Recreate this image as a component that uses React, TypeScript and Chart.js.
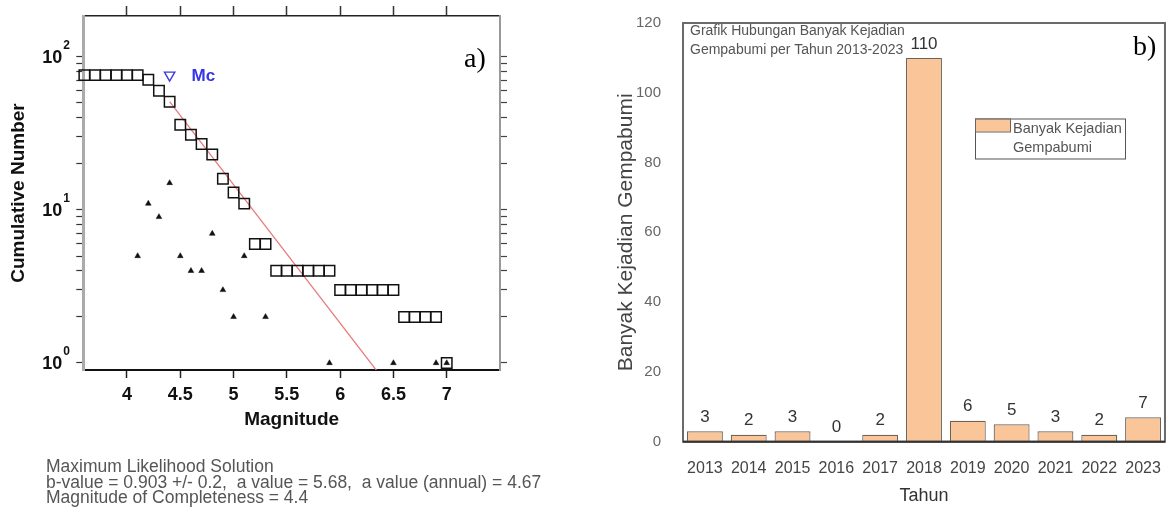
import React, { useEffect, useRef } from 'react';
import { Chart, registerables } from 'chart.js';

Chart.register(...registerables);

// ---------- Panel a) : Gutenberg-Richter frequency-magnitude ----------
const magnitudes = [3.6, 3.7, 3.8, 3.9, 4.0, 4.1, 4.2, 4.3, 4.4, 4.5, 4.6, 4.7, 4.8, 4.9, 5.0, 5.1, 5.2, 5.3, 5.4, 5.5, 5.6, 5.7, 5.8, 5.9, 6.0, 6.1, 6.2, 6.3, 6.4, 6.5, 6.6, 6.7, 6.8, 6.9, 7.0];
const cumulativeNumber = [76, 76, 76, 76, 76, 76, 71, 60, 51, 36, 31, 27, 23, 16, 13, 11, 6, 6, 4, 4, 4, 4, 4, 4, 3, 3, 3, 3, 3, 3, 2, 2, 2, 2, 1];
const binMagnitudes = [4.1, 4.2, 4.3, 4.4, 4.5, 4.6, 4.7, 4.8, 4.9, 5.0, 5.1, 5.3, 5.9, 6.5, 6.9, 7.0];
const binCounts = [5, 11, 9, 15, 5, 4, 4, 7, 3, 2, 5, 2, 1, 1, 1, 1];
const fitMagnitudes = [4.4, 6.36];
const fitCounts = [51, 0.86];
const mcMagnitude = [4.4];
const mcMarkerLevel = [76];
const mcLabel = 'Mc';
const magnitudeTicks = [4, 4.5, 5, 5.5, 6, 6.5, 7];
const cumulativeTicks = [1, 2, 3, 4, 5, 6, 7, 8, 9, 10, 20, 30, 40, 50, 60, 70, 80, 90, 100];
const decadeValues = [1, 10, 100];
const decadeExponents = ['0', '1', '2'];
const statsLines = [
  'Maximum Likelihood Solution',
  'b-value = 0.903 +/- 0.2,  a value = 5.68,  a value (annual) = 4.67',
  'Magnitude of Completeness = 4.4',
];

// ---------- Panel b) : events per year ----------
const years = ['2013', '2014', '2015', '2016', '2017', '2018', '2019', '2020', '2021', '2022', '2023'];
const eventCounts = [3, 2, 3, 0, 2, 110, 6, 5, 3, 2, 7];
const countTicks = [0, 20, 40, 60, 80, 100, 120];
const barTitleLines = ['Grafik Hubungan Banyak Kejadian', 'Gempabumi per Tahun 2013-2023'];
const seriesLabel = 'Banyak Kejadian Gempabumi';

const FONT = 'Arial, "Liberation Sans", sans-serif';
const BAR_FILL = '#fac598';
const BAR_EDGE = '#6e6259';

const leftLabelsPlugin = {
  id: 'leftLabels',
  afterDraw(chart: any) {
    const { ctx, scales, chartArea } = chart;
    const y = scales.y;
    ctx.save();
    ctx.fillStyle = '#111';
    ctx.textBaseline = 'middle';
    decadeValues.forEach((v, i) => {
      const py = y.getPixelForValue(v);
      ctx.font = `bold 18px ${FONT}`;
      ctx.textAlign = 'right';
      ctx.fillText('10', chartArea.left - 21, py + 1);
      ctx.font = `bold 12px ${FONT}`;
      ctx.textAlign = 'left';
      ctx.fillText(decadeExponents[i], chartArea.left - 20, py - 11);
    });
    const mc = chart.getDatasetMeta(3).data[0];
    if (mc) {
      ctx.fillStyle = '#3535e6';
      ctx.font = `bold 17px ${FONT}`;
      ctx.textAlign = 'left';
      ctx.fillText(mcLabel, mc.x + 22, mc.y + 1);
    }
    ctx.restore();
  },
};

const barDecorPlugin = {
  id: 'barDecor',
  afterDatasetsDraw(chart: any) {
    const { ctx, chartArea } = chart;
    const { left, top, right, bottom } = chartArea;
    ctx.save();
    // frame
    ctx.strokeStyle = '#6a6a6a';
    ctx.lineWidth = 2;
    ctx.strokeRect(left, top, right - left, bottom - top);
    ctx.strokeStyle = '#333';
    ctx.beginPath();
    ctx.moveTo(left, bottom);
    ctx.lineTo(right, bottom);
    ctx.stroke();
    // value labels
    const meta = chart.getDatasetMeta(0);
    ctx.fillStyle = '#333';
    ctx.font = `17px ${FONT}`;
    ctx.textAlign = 'center';
    ctx.textBaseline = 'middle';
    meta.data.forEach((bar: any, i: number) => {
      ctx.fillText(String(eventCounts[i]), bar.x, bar.y - 14);
    });
    // legend box
    const lx = 375;
    const ly = 118.5;
    const lw = 150;
    const lh = 40;
    ctx.fillStyle = '#fff';
    ctx.fillRect(lx, ly, lw, lh);
    ctx.strokeStyle = '#555';
    ctx.lineWidth = 1;
    ctx.strokeRect(lx + 0.5, ly + 0.5, lw, lh);
    ctx.fillStyle = BAR_FILL;
    ctx.fillRect(lx + 1, ly + 1, 34, 12);
    ctx.strokeStyle = BAR_EDGE;
    ctx.strokeRect(lx + 0.5, ly + 0.5, 35, 13);
    const words = chart.data.datasets[0].label.split(' ');
    ctx.fillStyle = '#555';
    ctx.font = `14.5px ${FONT}`;
    ctx.textAlign = 'left';
    ctx.fillText(words.slice(0, 2).join(' '), lx + 38, ly + 10);
    ctx.fillText(words.slice(2).join(' '), lx + 38, ly + 29);
    // inner title
    ctx.font = `14px ${FONT}`;
    ctx.fillStyle = '#555';
    barTitleLines.forEach((t, i) => {
      ctx.fillText(t, left + 7, 31.5 + i * 18.5);
    });
    ctx.restore();
  },
};

export default function App() {
  const leftRef = useRef<HTMLCanvasElement>(null);
  const rightRef = useRef<HTMLCanvasElement>(null);

  useEffect(() => {
    const tickFilter = (list: number[]) => (scale: any) => {
      scale.ticks = list.map((v) => ({ value: v }));
    };

    const left = new Chart(leftRef.current as HTMLCanvasElement, {
      type: 'scatter',
      data: {
        datasets: [
          {
            label: 'Cumulative Number',
            data: magnitudes.map((m, i) => ({ x: m, y: cumulativeNumber[i] })),
            pointStyle: 'rect',
            pointRadius: 7.4,
            pointBorderColor: '#111',
            pointBackgroundColor: 'rgba(255,255,255,0)',
            pointBorderWidth: 1.5,
            clip: false,
          },
          {
            label: 'Number per bin',
            data: binMagnitudes.map((m, i) => ({ x: m, y: binCounts[i] })),
            pointStyle: 'triangle',
            pointRadius: 3.3,
            pointBorderColor: '#111',
            pointBackgroundColor: '#111',
            pointBorderWidth: 0.5,
          },
          {
            label: 'Fit',
            data: fitMagnitudes.map((m, i) => ({ x: m, y: fitCounts[i] })),
            showLine: true,
            borderColor: '#e87c7c',
            borderWidth: 1.3,
            pointRadius: 0,
          },
          {
            label: 'Mc',
            data: mcMagnitude.map((m, i) => ({ x: m, y: mcMarkerLevel[i] })),
            pointStyle: 'triangle',
            pointRotation: 180,
            pointRadius: 6,
            pointBorderColor: '#3a3ae0',
            pointBackgroundColor: 'rgba(0,0,0,0)',
            pointBorderWidth: 1.4,
            clip: false,
          },
        ],
      } as any,
      options: {
        animation: false,
        responsive: false,
        maintainAspectRatio: false,
        layout: { padding: { left: 0, top: 0, right: 0, bottom: 83.3 } },
        plugins: { legend: { display: false }, tooltip: { enabled: false } },
        scales: {
          x: {
            type: 'linear',
            position: 'bottom',
            min: 3.59,
            max: 7.5,
            afterBuildTicks: tickFilter(magnitudeTicks),
            afterFit: (s: any) => { s.height = 60.7; },
            ticks: {
              font: { family: FONT, size: 18, weight: 'bold' },
              color: '#111',
              padding: 6,
              callback: (v: any) => String(v),
            },
            grid: { drawOnChartArea: false, tickLength: 8, tickColor: '#222', tickWidth: 1.5 },
            border: { color: '#111', width: 2 },
            title: {
              display: true,
              text: 'Magnitude',
              font: { family: FONT, size: 19, weight: 'bold' },
              color: '#111',
              padding: { top: 0, bottom: 0 },
            },
          },
          x2: {
            type: 'linear',
            position: 'top',
            min: 3.59,
            max: 7.5,
            afterBuildTicks: tickFilter(magnitudeTicks),
            afterFit: (s: any) => { s.height = 16; },
            ticks: { display: false },
            grid: { drawOnChartArea: false, tickLength: 10, tickColor: '#333', tickWidth: 1.5 },
            border: { color: '#222', width: 1.5 },
          },
          y: {
            type: 'logarithmic',
            position: 'left',
            min: 0.9,
            max: 185,
            afterBuildTicks: tickFilter(cumulativeTicks),
            afterFit: (s: any) => { s.width = 83.3; },
            ticks: { display: false },
            grid: { drawOnChartArea: false, tickLength: 7, tickColor: '#333', tickWidth: 1.2 },
            border: { color: '#aaa', width: 3 },
            title: {
              display: true,
              text: 'Cumulative Number',
              font: { family: FONT, size: 19, weight: 'bold' },
              color: '#111',
              padding: { top: 7, bottom: 0 },
            },
          },
          y2: {
            type: 'logarithmic',
            position: 'right',
            min: 0.9,
            max: 185,
            afterBuildTicks: tickFilter(cumulativeTicks),
            afterFit: (s: any) => { s.width = 60; },
            ticks: { display: false },
            grid: { drawOnChartArea: false, tickLength: 7, tickColor: '#444', tickWidth: 1.2 },
            border: { color: '#999', width: 2 },
          },
        },
      } as any,
      plugins: [leftLabelsPlugin],
    });

    const right = new Chart(rightRef.current as HTMLCanvasElement, {
      type: 'bar',
      data: {
        labels: years,
        datasets: [
          {
            label: seriesLabel,
            data: eventCounts,
            backgroundColor: BAR_FILL,
            borderColor: BAR_EDGE,
            borderWidth: 1.2,
            barPercentage: 0.82,
            categoryPercentage: 1,
          },
        ],
      },
      options: {
        animation: false,
        responsive: false,
        maintainAspectRatio: false,
        layout: { padding: { left: 0, top: 13.5, right: 3, bottom: 6 } },
        plugins: { legend: { display: false }, tooltip: { enabled: false } },
        scales: {
          x: {
            afterFit: (s: any) => { s.height = 514 - 6 - 441.7; },
            grid: { display: false },
            border: { display: false },
            ticks: { font: { family: FONT, size: 16 }, color: '#444', padding: 9 },
            title: {
              display: true,
              text: 'Tahun',
              font: { family: FONT, size: 18 },
              color: '#333',
              padding: { top: 0, bottom: 1 },
            },
          },
          y: {
            min: 0,
            max: 120,
            afterBuildTicks: tickFilter(countTicks),
            afterFit: (s: any) => { s.width = 83; },
            grid: { display: false },
            border: { display: false },
            ticks: { font: { family: FONT, size: 15 }, color: '#666', padding: 14 },
            title: {
              display: true,
              text: seriesLabel,
              font: { family: FONT, size: 21 },
              color: '#444',
              padding: { top: 14, bottom: 0 },
            },
          },
        },
      } as any,
      plugins: [barDecorPlugin],
    });

    return () => {
      left.destroy();
      right.destroy();
    };
  }, []);

  return (
    <div style={{ position: 'fixed', left: 0, top: 0, width: 1170, height: 514, background: '#fff', overflow: 'hidden' }}>
      <canvas ref={leftRef} width={560} height={514} style={{ position: 'absolute', left: 0, top: 0, width: 560, height: 514 }} />
      <canvas ref={rightRef} width={570} height={514} style={{ position: 'absolute', left: 600, top: 0, width: 570, height: 514 }} />
      <div style={{ position: 'absolute', left: 464, top: 44, fontFamily: '"Times New Roman", "Liberation Serif", serif', fontSize: 28, lineHeight: '28px', color: '#000' }}>a)</div>
      <div style={{ position: 'absolute', left: 1133, top: 32, fontFamily: '"Times New Roman", "Liberation Serif", serif', fontSize: 28, lineHeight: '28px', color: '#000' }}>b)</div>
      <div style={{ position: 'absolute', left: 46, top: 459, fontFamily: FONT, fontSize: 17.5, lineHeight: '15.5px', color: '#555', whiteSpace: 'pre' }}>
        {statsLines.map((t, i) => (
          <div key={i}>{t}</div>
        ))}
      </div>
    </div>
  );
}
